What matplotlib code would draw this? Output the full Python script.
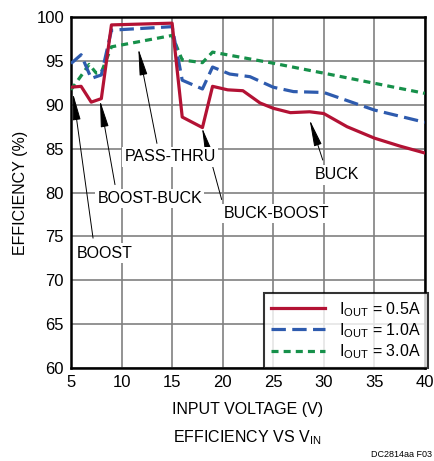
import matplotlib
matplotlib.use("Agg")
import matplotlib.pyplot as plt

plt.rcParams['font.family'] = ['Liberation Sans', 'DejaVu Sans']
plt.rcParams['mathtext.fontset'] = 'custom'
plt.rcParams['mathtext.rm'] = 'Liberation Sans'

# Data (input voltage V, efficiency %)
v_05 = [5, 6, 7, 8, 9, 15, 16, 18, 19, 20.5, 22, 23.7, 25, 26.7, 28.6, 30, 32.3, 35, 37.5, 40]
e_05 = [92.0, 92.1, 90.3, 90.7, 99.1, 99.3, 88.6, 87.4, 92.1, 91.7, 91.6, 90.2, 89.6, 89.1, 89.2, 89.0, 87.5, 86.2, 85.3, 84.5]

v_10 = [5, 6, 7, 8, 9, 15, 16, 18, 19, 20.7, 22.7, 25, 27, 30, 35, 40]
e_10 = [94.7, 95.7, 93.0, 93.4, 98.5, 98.9, 92.8, 91.8, 94.3, 93.5, 93.2, 92.0, 91.5, 91.4, 89.4, 88.0]

v_30 = [5, 6, 6.8, 7.5, 8, 9, 15, 16, 18, 19, 24.7, 30, 35, 40]
e_30 = [91.7, 93.3, 94.6, 93.6, 93.7, 96.6, 97.9, 95.1, 94.8, 96.0, 94.8, 93.6, 92.45, 91.3]

labels = ['I$_{\\mathregular{OUT}}$ = 0.5A', 'I$_{\\mathregular{OUT}}$ = 1.0A', 'I$_{\\mathregular{OUT}}$ = 3.0A']
xticks = [5, 10, 15, 20, 25, 30, 35, 40]
yticks = [60, 65, 70, 75, 80, 85, 90, 95, 100]

fig = plt.figure(figsize=(4.34, 4.61), dpi=100)
ax = fig.add_axes([0.1636, 0.2017, 0.8154, 0.7614])

red = '#B31234'
blue = '#2E5BAE'
green = '#16904A'

ax.plot(v_05, e_05, color=red, lw=2.3, label=labels[0], zorder=5)
ax.plot(v_10, e_10, color=blue, lw=2.3, ls=(0, (4.5, 2)), label=labels[1], zorder=4)
ax.plot(v_30, e_30, color=green, lw=2.3, ls=(0, (2.2, 1.6)), label=labels[2], zorder=3)

fs = 11.5
ax.set_xlim(5, 40)
ax.set_ylim(60, 100)
ax.set_xticks(xticks)
ax.set_yticks(yticks)
ax.grid(True, color='#808080', lw=1.2)
ax.set_axisbelow(True)
ax.tick_params(length=0, labelsize=fs + 0.5, pad=5)
for s in ax.spines.values():
    s.set_linewidth(1.8)
    s.set_color('black')

ax.set_ylabel('EFFICIENCY (%)', fontsize=fs, labelpad=6)
ax.set_xlabel('INPUT VOLTAGE (V)', fontsize=fs, labelpad=9)
fig.text(0.57, 0.04, 'EFFICIENCY VS V$_{\\mathregular{IN}}$', ha='center', fontsize=fs)
fig.text(0.995, 0.005, 'DC2814aa F03', ha='right', va='bottom', fontsize=6.5)

aprops = dict(arrowstyle='-|>,head_length=1.5,head_width=0.22', color='black', lw=0.7,
              shrinkA=0, shrinkB=0, mutation_scale=11)
bbox = dict(facecolor='white', edgecolor='none', pad=1.5)
annots = [
    ('PASS-THRU', (14.8, 84.05), (13.5, 85.6), (11.66, 96.4)),
    ('BOOST-BUCK', (12.8, 79.3), (9.35, 80.9), (7.87, 90.5)),
    ('BOOST', (8.36, 73.1), (7.18, 74.8), (5.2, 91.3)),
    ('BUCK-BOOST', (25.3, 77.6), (19.9, 79.2), (17.96, 87.4)),
    ('BUCK', (31.3, 82.0), (29.9, 83.7), (28.6, 88.3)),
]
for txt, pos, tail, tip in annots:
    ax.annotate('', xy=tip, xytext=tail, arrowprops=aprops, zorder=6)
    ax.text(pos[0], pos[1], txt, ha='center', va='center', fontsize=fs, bbox=bbox, zorder=7)

leg = ax.legend(loc='lower right', fontsize=fs, frameon=True, fancybox=False,
                handlelength=3.4, borderaxespad=0.0, borderpad=0.45, labelspacing=0.15,
                handletextpad=0.9, bbox_to_anchor=(1.01, 0.0))
leg.get_frame().set_edgecolor('black')
leg.get_frame().set_linewidth(1.5)
leg.set_zorder(10)

fig.savefig('out.png', dpi=100)
